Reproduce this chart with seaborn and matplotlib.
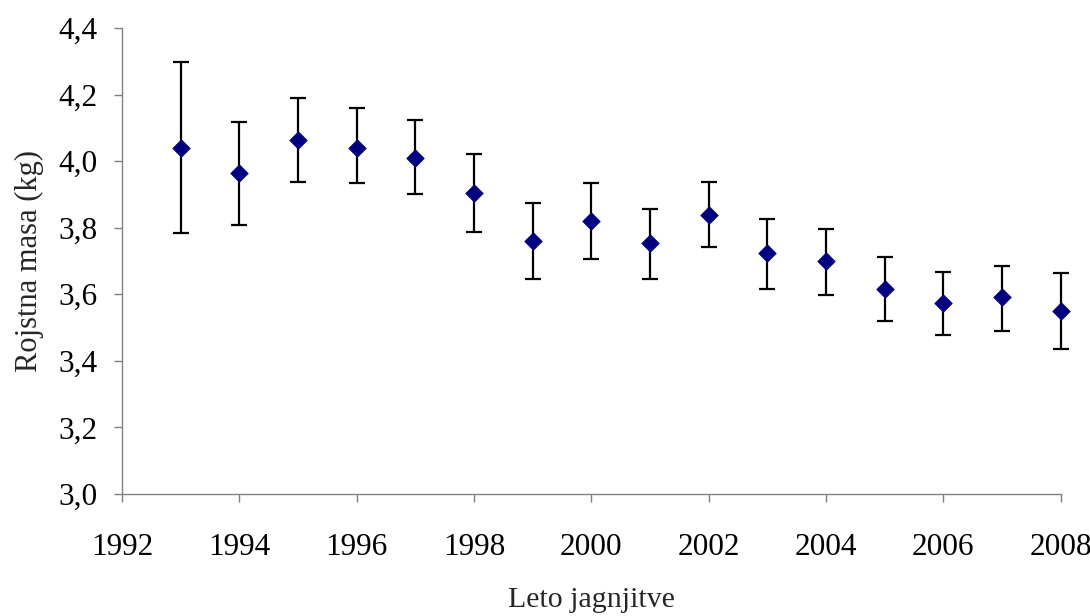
import matplotlib
matplotlib.use("Agg")
import matplotlib.pyplot as plt
import seaborn as sns
import pandas as pd
from matplotlib.ticker import FuncFormatter

years = [1993, 1994, 1995, 1996, 1997, 1998, 1999, 2000, 2001, 2002,
         2003, 2004, 2005, 2006, 2007, 2008]
mean_mass = [4.040, 3.964, 4.065, 4.040, 4.011, 3.904, 3.759, 3.819, 3.754, 3.837,
             3.724, 3.699, 3.615, 3.573, 3.591, 3.549]
upper_ci = [4.298, 4.119, 4.191, 4.160, 4.125, 4.023, 3.875, 3.934, 3.856, 3.938,
            3.826, 3.796, 3.711, 3.668, 3.686, 3.663]
lower_ci = [3.784, 3.808, 3.938, 3.935, 3.902, 3.788, 3.647, 3.706, 3.647, 3.742,
            3.617, 3.597, 3.519, 3.477, 3.489, 3.435]
x_ticks = [1992, 1994, 1996, 1998, 2000, 2002, 2004, 2006, 2008]
y_ticks = [3.0, 3.2, 3.4, 3.6, 3.8, 4.0, 4.2, 4.4]

df = pd.DataFrame({"leto": years, "masa": mean_mass, "zg": upper_ci, "sp": lower_ci})

sns.set_style("white")
plt.rcParams["font.family"] = ["Liberation Serif", "DejaVu Serif"]

fig = plt.figure(figsize=(10.9, 6.16), dpi=100)
ax = fig.add_axes([0.112, 0.198, 0.861, 0.7565])

yerr = [df["masa"] - df["sp"], df["zg"] - df["masa"]]
ax.errorbar(df["leto"], df["masa"], yerr=yerr, fmt="none", ecolor="black",
            elinewidth=1.6, capsize=6, capthick=1.6, zorder=2, clip_on=False)
sns.scatterplot(data=df, x="leto", y="masa", marker="D", s=80, color="#000080",
                edgecolor="#000080", linewidth=0.5, ax=ax, zorder=3, clip_on=False)

ax.set_xlim(1992, 2008)
ax.set_ylim(3.0, 4.4)
ax.set_xticks(x_ticks)
ax.set_yticks(y_ticks)
ax.yaxis.set_major_formatter(FuncFormatter(lambda v, p: f"{v:.1f}".replace(".", ",")))

for s in ["top", "right"]:
    ax.spines[s].set_visible(False)
for s in ["left", "bottom"]:
    ax.spines[s].set_color("#808080")
    ax.spines[s].set_linewidth(1.0)

ax.tick_params(axis="both", which="major", direction="out", length=6, width=1.0,
               color="#808080", labelsize=22.5, labelcolor="black", bottom=True, left=True)
ax.tick_params(axis="x", pad=22)
ax.tick_params(axis="y", pad=12)

ax.set_xlabel("Leto jagnjitve", fontsize=21.5, labelpad=18)
ax.set_ylabel("Rojstna masa (kg)", fontsize=22, labelpad=10)

fig.savefig("out.png", dpi=100)
